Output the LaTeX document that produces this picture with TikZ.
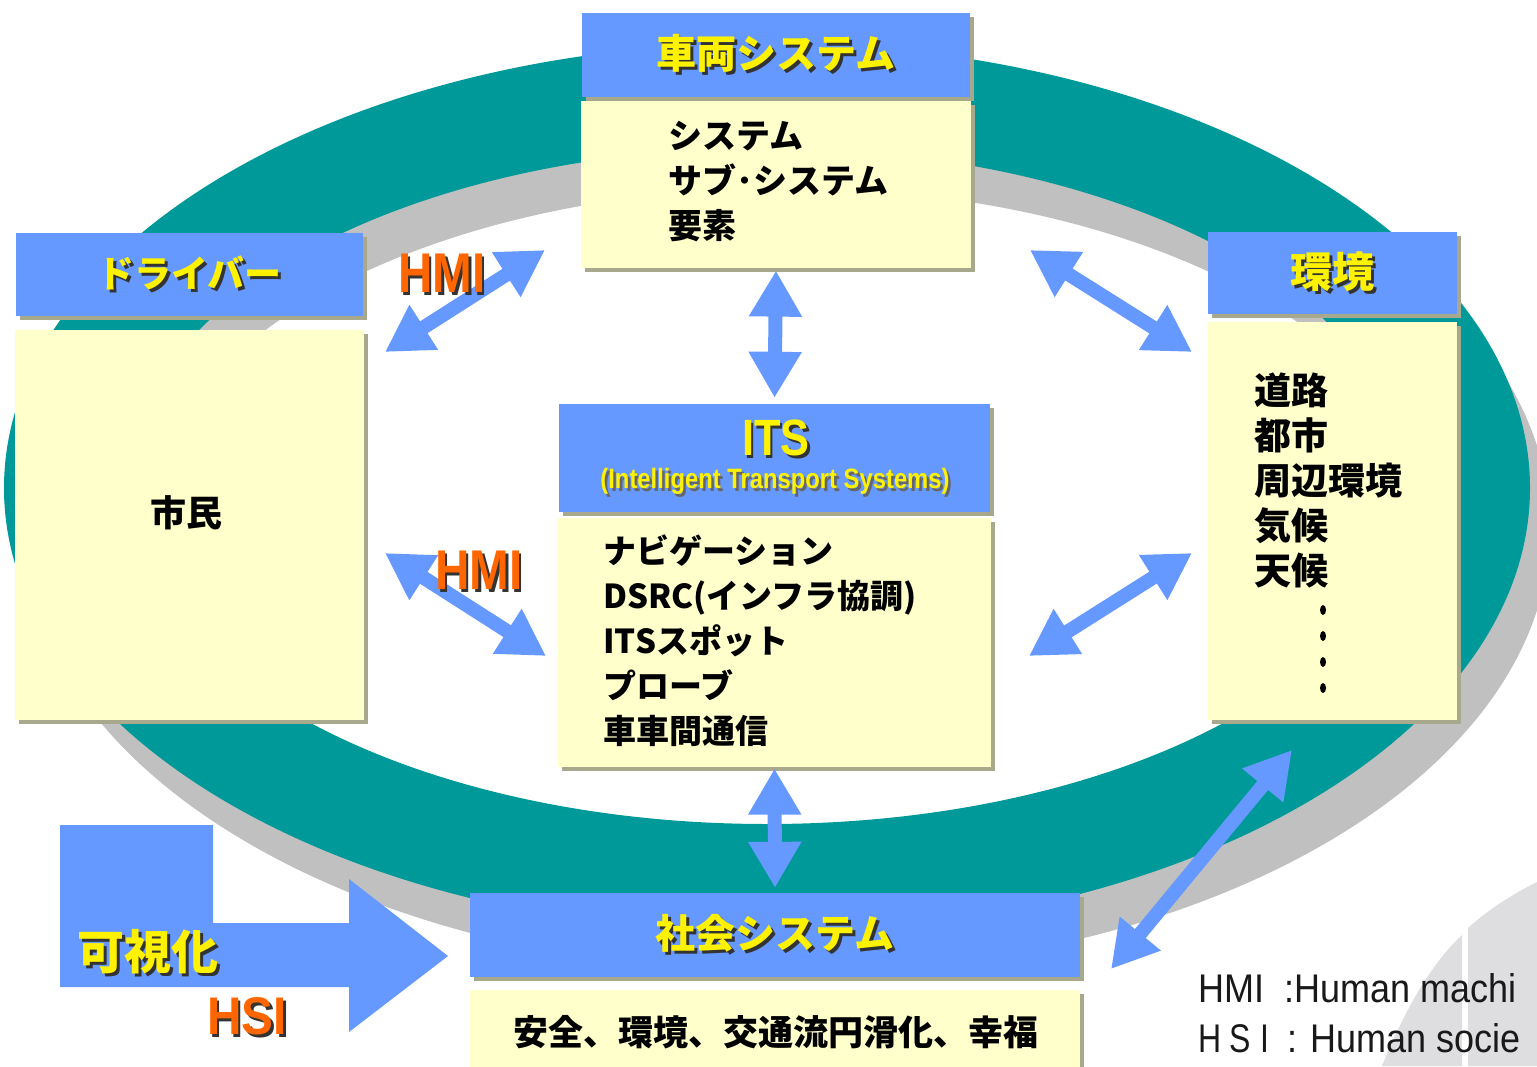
\documentclass[tikz,border=0pt]{standalone}
\usepackage{fontspec}
\setmainfont{Noto Sans CJK JP}
\newfontfamily\latinfont{Liberation Sans}
\usepackage{graphicx}
\usetikzlibrary{arrows.meta,positioning,shadows}

\definecolor{ringteal}{RGB}{0,153,153}
\definecolor{ringshade}{RGB}{192,192,192}
\definecolor{headblue}{RGB}{102,153,255}
\definecolor{bodycream}{RGB}{255,255,204}
\definecolor{boxshade}{RGB}{168,168,140}
\definecolor{hmiorange}{RGB}{255,102,0}
\definecolor{marklogo}{RGB}{222,221,224}

% text with a dark drop shadow
\newcommand\shadetext[2][black!80]{\makebox[0pt][l]{\hspace{3pt}\raisebox{-3pt}{\textcolor{#1}{#2}}}#2}

\begin{document}
\begin{tikzpicture}[x=1pt, y=-1pt,
        headbox/.style  = {rectangle, fill=headblue, inner sep=0pt, text=yellow,
                drop shadow={shadow xshift=4pt, shadow yshift=-4pt, fill=boxshade, opacity=1}},
        bodybox/.style  = {rectangle, fill=bodycream, inner sep=0pt,
                drop shadow={shadow xshift=4pt, shadow yshift=-4pt, fill=boxshade, opacity=1}},
        headtext/.style = {font=\bfseries\fontsize{#1}{#1}\selectfont},
        listtext/.style = {align=left, inner sep=0pt, font=\bfseries\fontsize{#1}{45}\selectfont},
        hmitext/.style  = {inner sep=0pt, text=hmiorange, font=\latinfont\bfseries\fontsize{#1}{#1}\selectfont},
        keytext/.style  = {inner sep=0pt, anchor=base west, text=black!90, font=\latinfont\fontsize{40}{40}\selectfont},
        link/.style     = {<->, draw=headblue, line width=14pt},
        >={Triangle[length=46pt, width=50pt]}]

        \fill[white] (0,0) rectangle (1537,1066);
        \useasboundingbox (0,0) rectangle (1537,1066);

        % the ring and its shadow
        \fill[ringshade, even odd rule, shift={(20,40)}]
            (767,488) ellipse [x radius=763, y radius=445]
            (767,486) ellipse [x radius=640, y radius=338];
        \fill[ringteal, even odd rule]
            (767,488) ellipse [x radius=763, y radius=445]
            (767,486) ellipse [x radius=640, y radius=338];

        % faint logo in the corner
        \fill[marklogo] (1382,1066) .. controls (1405,1010) and (1430,965) .. (1462,935) -- (1462,1066) -- cycle;
        \fill[marklogo] (1468,928) .. controls (1490,908) and (1515,893) .. (1537,882) -- (1537,1066) -- (1468,1066) -- cycle;

        % big bent arrow
        \fill[headblue] (60,825) -- (213,825) -- (213,923) -- (349,923) -- (349,879)
            -- (448,956) -- (349,1032) -- (349,987) -- (60,987) -- cycle;

        % vehicle system
        \node[headbox, headtext=40, minimum width=388pt, minimum height=84pt] (vtitle) at (776,55) {\shadetext{車両システム}};
        \node[bodybox, minimum width=390pt, minimum height=167pt, below=4pt of vtitle] (vbody) {};
        \node[listtext=34, anchor=west] (vlist) at (668,182) {システム\\サブ･システム\\要素};

        % driver
        \node[headbox, headtext=37, minimum width=347pt, minimum height=83pt] (dtitle) at (189.5,274.5) {\shadetext{ドライバー}};
        \node[bodybox, minimum width=349pt, minimum height=390pt, below=14pt of dtitle] (dbody) {};
        \node[listtext=36] (dlist) at (186,513) {市民};

        % environment
        \node[headbox, headtext=42, minimum width=249pt, minimum height=82pt] (etitle) at (1332.5,273) {\shadetext{環境}};
        \node[bodybox, minimum width=249pt, minimum height=398pt, below=8pt of etitle] (ebody) {};
        \node[listtext=37, anchor=west] (elist) at (1254,480) {道路\\都市\\周辺環境\\気候\\天候};
        \foreach \i in {0,...,3}
        \fill (1323,610+26*\i) ellipse [x radius=3, y radius=5];

        % ITS
        \node[headbox, minimum width=431pt, minimum height=108pt] (ititle) at (774.5,458) {};
        \node[hmitext=51, text=yellow] (itsmark) at (776,439) {\scalebox{0.85}[1]{\shadetext{ITS}}};
        \node[hmitext=28, text=yellow] (itsfull) at (775,483) {\scalebox{0.85}[1]{\shadetext[black!60]{(Intelligent Transport Systems)}}};
        \node[bodybox, minimum width=433pt, minimum height=249pt, below=6pt of ititle] (ibody) {};
        \node[listtext=33, anchor=west] (ilist) at (603,641) {ナビゲーション\\DSRC(インフラ協調)\\ITSスポット\\プローブ\\車車間通信};

        % society
        \node[headbox, headtext=40, minimum width=610pt, minimum height=84pt] (stitle) at (775,935) {\shadetext{社会システム}};
        \node[bodybox, minimum width=610pt, minimum height=90pt, below=13pt of stitle] (sbody) {};
        \node[listtext=35] (slist) at (776,1032) {安全、環境、交通流円滑化、幸福};

        % links between the boxes
        \draw[link, shorten <=2pt, shorten >=6pt] (vbody.south) -- (ititle.north);
        \draw[link, shorten <=1pt, shorten >=5pt] (ibody.south) -- (stitle.north);

        \coordinate (dl1) at (385,352);  \coordinate (vl1) at (545,250);
        \coordinate (dl2) at (385,553);  \coordinate (il2) at (546,656);
        \coordinate (vr1) at (1030,250); \coordinate (er1) at (1192,352);
        \coordinate (ir2) at (1029,656); \coordinate (er2) at (1192,553);
        \coordinate (sr3) at (1111,969); \coordinate (er3) at (1292,750);

        \foreach \from/\to in {dl1/vl1, dl2/il2, vr1/er1, ir2/er2, sr3/er3}
        \draw[link] (\from) -- (\to);

        % labels
        \node[hmitext=56] (hmiup) at (442,275) {\scalebox{0.85}[1]{\shadetext{HMI}}};
        \node[hmitext=56] (hmilow) at (479,572) {\scalebox{0.85}[1]{\shadetext{HMI}}};
        \node[hmitext=53] (hsi) at (247,1018) {\scalebox{0.9}[1]{\shadetext{HSI}}};
        \node[headtext=47, text=yellow, inner sep=0pt] (vislabel) at (148,953) {\shadetext{可視化}};

        % key, cut at the right edge as in the slide
        \node[keytext] (hmikey) at (1198,1002)
            {\scalebox{0.9}[1]{HMI}\hspace{20pt}\scalebox{0.9}[1]{:Human machi}};
        \node[keytext] (hsikey) at (1198,1052)
            {\scalebox{0.8}[1]{H}\hspace{8pt}\scalebox{0.8}[1]{S}\hspace{10pt}\scalebox{0.8}[1]{I}\hspace{18pt}\scalebox{0.9}[1]{:\hspace{14pt}Human socie}};

\end{tikzpicture}
\end{document}
